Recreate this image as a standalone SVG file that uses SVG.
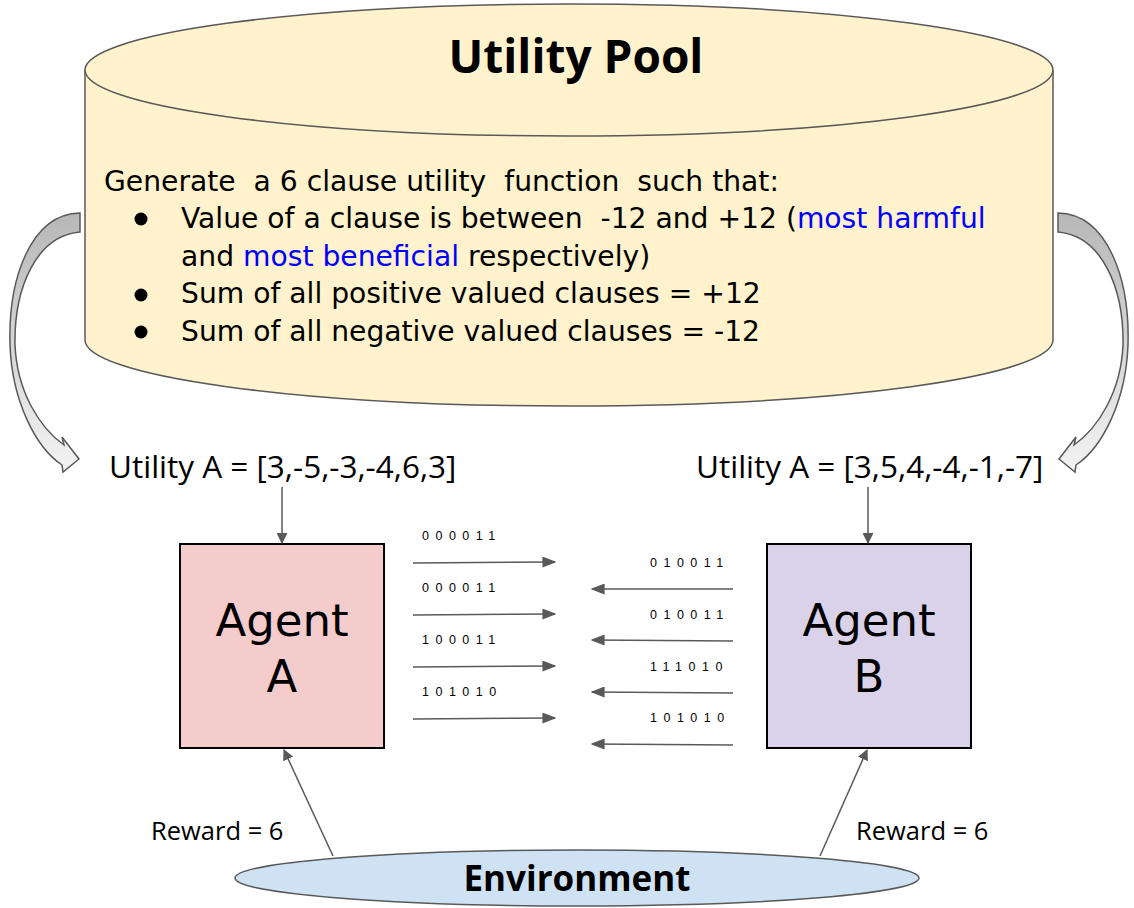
<svg xmlns="http://www.w3.org/2000/svg" width="1134" height="908" viewBox="0 0 1134 908">
  <style>
    .ub { font-family: "Open Sans", "Noto Sans", "DejaVu Sans", sans-serif; fill: #000; }
    .pool-title { font-size: 46px; font-weight: bold; }
    .body { font-family: "DejaVu Sans", "Open Sans", sans-serif; font-size: 28.2px; fill: #000; }
    .hl { fill: #0000ff; }
    .util { font-size: 31.5px; }
    .agent { font-size: 45px; text-anchor: middle; font-family: "DejaVu Sans", sans-serif; }
    .bits { font-family: "Liberation Sans", Arial, sans-serif; font-size: 12.5px; letter-spacing: 6.5px; fill: #000; }
    .reward { font-size: 25.5px; }
    .env { font-size: 35px; font-weight: bold; text-anchor: middle; }
    .line { stroke: #595959; stroke-width: 1.5; fill: none; }
    .curve { stroke: #595959; stroke-width: 1.5; }
  </style>
  <defs>
    <marker id="arr" viewBox="0 0 10 10" refX="9" refY="5" markerWidth="11" markerHeight="11" markerUnits="userSpaceOnUse" orient="auto">
      <path d="M0,0 L10,5 L0,10 Z" fill="#595959"/>
    </marker>
    <marker id="arrW" viewBox="0 0 10 10" refX="9" refY="5" markerWidth="14" markerHeight="11" markerUnits="userSpaceOnUse" orient="auto" preserveAspectRatio="none">
      <path d="M0,0 L10,5 L0,10 Z" fill="#595959"/>
    </marker>
    <linearGradient id="curveFill" x1="0" y1="0" x2="0" y2="1">
      <stop offset="0" stop-color="#b7b7b7"/>
      <stop offset="1" stop-color="#f3f3f3"/>
    </linearGradient>
    <path id="curvedArrow" d="M80,213 C30,214 8,280 10,345 C12,400 35,447 62,465 L63,472 L79,459 L62,437 L64,445 C40,428 17,392 15,345 C14,290 35,236 80,232 Z"/>
  </defs>

  <!-- utility pool cylinder -->
  <g id="utility-pool">
    <path d="M85,70 L85,340 A484,66 0 0 0 1053,340 L1053,70" fill="#fff2cc" stroke="#595959" stroke-width="1.5"/>
    <ellipse cx="569" cy="70" rx="484" ry="66" fill="#fff2cc" stroke="#595959" stroke-width="1.5"/>
    <text class="ub pool-title" x="576" y="73" text-anchor="middle">Utility Pool</text>
    <text class="body" x="104" y="191" xml:space="preserve">Generate  a 6 clause utility  function  such that:</text>
    <g fill="#000">
      <circle cx="141" cy="219" r="6.5"/>
      <circle cx="141" cy="295" r="6.5"/>
      <circle cx="141" cy="332" r="6.5"/>
    </g>
    <g class="body">
      <text x="181" y="228" xml:space="preserve">Value of a clause is between  -12 and +12 (<tspan class="hl">most harmful</tspan></text>
      <text x="181" y="266">and <tspan class="hl">most beneficial</tspan> respectively)</text>
      <text x="181" y="303">Sum of all positive valued clauses = +12</text>
      <text x="181" y="341">Sum of all negative valued clauses = -12</text>
    </g>
  </g>

  <!-- utility assignments -->
  <g id="utility-a">
    <text class="ub util" x="109" y="478">Utility A = [3,-5,-3,-4,6,3]</text>
  </g>
  <g id="utility-b">
    <text class="ub util" x="696" y="478">Utility A = [3,5,4,-4,-1,-7]</text>
  </g>

  <!-- agents -->
  <g id="agent-a">
    <rect x="180" y="544" width="204" height="204" fill="#f4cccc" stroke="#000" stroke-width="2"/>
    <text class="agent" x="282" y="636">Agent</text>
    <text class="agent" x="282" y="692">A</text>
  </g>
  <g id="agent-b">
    <rect x="767" y="544" width="204" height="204" fill="#d9d2e9" stroke="#000" stroke-width="2"/>
    <text class="agent" x="869" y="636">Agent</text>
    <text class="agent" x="869" y="692">B</text>
  </g>

  <!-- environment -->
  <g id="environment">
    <ellipse cx="577" cy="878" rx="342" ry="28" fill="#cfe2f3" stroke="#595959" stroke-width="1.5"/>
    <text class="ub env" x="577" y="891">Environment</text>
  </g>

  <!-- connectors -->
  <g id="connectors">
    <use href="#curvedArrow" fill="url(#curveFill)" class="curve"/>
    <use href="#curvedArrow" fill="url(#curveFill)" class="curve" transform="translate(1138,0) scale(-1,1)"/>

    <line class="line" x1="282" y1="487" x2="282" y2="543" marker-end="url(#arr)"/>
    <line class="line" x1="868" y1="487" x2="868" y2="543" marker-end="url(#arr)"/>

    <line class="line" x1="413" y1="563" x2="555" y2="562" marker-end="url(#arrW)"/>
    <line class="line" x1="413" y1="615" x2="555" y2="614" marker-end="url(#arrW)"/>
    <line class="line" x1="413" y1="667" x2="555" y2="666" marker-end="url(#arrW)"/>
    <line class="line" x1="413" y1="719" x2="555" y2="718" marker-end="url(#arrW)"/>

    <line class="line" x1="733" y1="589" x2="592" y2="589" marker-end="url(#arrW)"/>
    <line class="line" x1="733" y1="641" x2="592" y2="640" marker-end="url(#arrW)"/>
    <line class="line" x1="733" y1="693" x2="592" y2="692" marker-end="url(#arrW)"/>
    <line class="line" x1="733" y1="745" x2="592" y2="744" marker-end="url(#arrW)"/>

    <line class="line" x1="333" y1="856" x2="284" y2="750" marker-end="url(#arr)"/>
    <line class="line" x1="820" y1="856" x2="867" y2="750" marker-end="url(#arr)"/>
  </g>

  <!-- message bits -->
  <g id="messages" class="bits">
    <text x="422" y="540">000011</text>
    <text x="422" y="592">000011</text>
    <text x="422" y="644">100011</text>
    <text x="422" y="696">101010</text>
    <text x="650" y="567">010011</text>
    <text x="650" y="619">010011</text>
    <text x="650" y="671">111010</text>
    <text x="650" y="722">101010</text>
  </g>

  <!-- reward labels -->
  <g id="rewards" class="ub reward">
    <text x="151" y="840">Reward = 6</text>
    <text x="856" y="840">Reward = 6</text>
  </g>
</svg>
